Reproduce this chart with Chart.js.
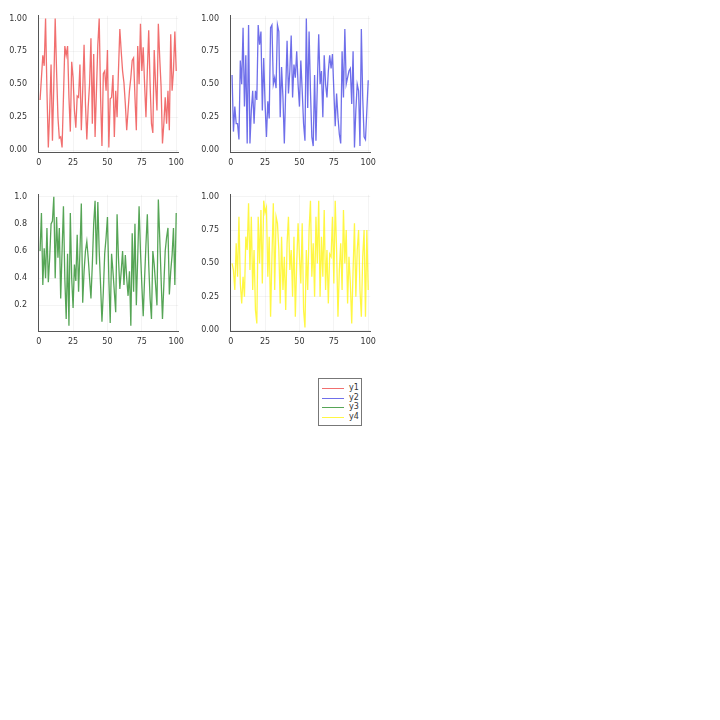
<!doctype html>
<html lang="en">
<head>
<meta charset="UTF-8" />
<title>Four random series</title>
<style>
  body { margin: 0; background: #fff; width: 720px; height: 720px; position: relative; overflow: hidden; }
  canvas { position: absolute; }
  #legend {
    position: absolute; left: 318px; top: 378px; width: 44px; height: 48px;
    border: 1px solid #777; background: #fff; box-sizing: border-box;
    font: 8px "DejaVu Sans", sans-serif; color: #333;
  }
  #legend .row { position: absolute; left: 3px; height: 10px; line-height: 10px; }
  #legend .sw { position: absolute; left: 0; top: 5px; width: 22px; height: 0; border-top: 1px solid; }
  #legend .lab { position: absolute; left: 27px; top: 0; }
</style>
</head>
<body>
<canvas id="c1" width="190" height="172" style="left:0;top:0"></canvas>
<canvas id="c2" width="190" height="172" style="left:192px;top:0"></canvas>
<canvas id="c3" width="190" height="172" style="left:0;top:179px"></canvas>
<canvas id="c4" width="190" height="172" style="left:192px;top:179px"></canvas>
<div id="legend"></div>

<script src="https://cdn.jsdelivr.net/npm/chart.js"></script>
<script>
// series values, one per index 1..100
const y1 = [0.38,0.55,0.72,0.64,1.0,0.45,0.02,0.3,0.65,0.07,
  0.5,1.0,0.6,0.25,0.09,0.1,0.02,0.4,0.79,0.72,
  0.79,0.4,0.14,0.67,0.55,0.3,0.17,0.41,0.4,0.65,
  0.15,0.45,0.8,0.35,0.08,0.33,0.5,0.85,0.2,0.73,
  0.1,0.45,0.8,1.0,0.4,0.03,0.58,0.6,0.45,0.76,
  0.02,0.39,0.4,0.57,0.1,0.45,0.25,0.6,0.92,0.75,
  0.6,0.51,0.35,0.15,0.3,0.45,0.55,0.68,0.7,0.4,
  0.15,0.79,0.5,0.96,0.6,0.78,0.5,0.25,0.6,0.91,
  0.5,0.2,0.13,0.76,0.5,0.3,0.96,0.7,0.48,0.05,
  0.2,0.4,0.2,0.45,0.15,0.88,0.45,0.6,0.9,0.6]
const y2 = [0.57,0.14,0.33,0.2,0.2,0.08,0.68,0.5,0.93,0.33,
  0.72,0.05,0.95,0.05,0.3,0.45,0.2,0.45,0.38,0.95,
  0.8,0.9,0.3,0.7,0.35,0.1,0.37,0.24,0.93,0.95,
  0.5,0.55,0.47,0.95,0.9,0.25,0.63,0.4,0.05,0.45,
  0.83,0.43,0.6,0.87,0.4,0.65,0.55,0.75,0.5,0.33,
  0.68,0.45,0.2,0.07,1.0,0.32,0.9,0.45,0.1,0.03,
  0.57,0.07,0.5,0.88,0.5,0.6,0.25,0.72,0.5,0.4,
  0.6,0.72,0.62,0.73,0.45,0.18,0.43,0.25,0.12,0.05,
  0.75,0.4,0.92,0.5,0.55,0.6,0.62,0.35,0.75,0.02,
  0.3,0.5,0.45,0.03,0.92,0.4,0.1,0.08,0.3,0.53]
const y3 = [0.6,0.88,0.35,0.62,0.4,0.77,0.37,0.55,0.8,0.82,
  1.0,0.4,0.85,0.55,0.77,0.25,0.6,0.93,0.4,0.1,
  0.58,0.05,0.88,0.4,0.18,0.5,0.38,0.72,0.3,0.6,
  0.95,0.22,0.45,0.6,0.67,0.55,0.4,0.25,0.5,0.8,
  0.97,0.5,0.96,0.6,0.35,0.08,0.3,0.58,0.7,0.85,
  0.4,0.07,0.58,0.45,0.3,0.15,0.87,0.55,0.32,0.45,
  0.6,0.35,0.57,0.4,0.27,0.45,0.05,0.73,0.3,0.8,
  0.2,0.55,0.93,0.6,0.35,0.12,0.4,0.65,0.87,0.5,
  0.25,0.1,0.6,0.5,0.35,0.2,0.98,0.7,0.4,0.1,
  0.35,0.6,0.7,0.77,0.28,0.45,0.57,0.77,0.35,0.88]
const y4 = [0.5,0.45,0.3,0.65,0.4,0.85,0.35,0.2,0.4,0.25,
  0.7,0.6,0.95,0.45,0.85,0.3,0.6,0.15,0.05,0.85,
  0.5,0.9,0.35,0.97,0.88,0.92,0.4,0.7,0.1,0.55,
  0.95,0.3,0.85,0.8,0.6,0.2,0.7,0.3,0.55,0.15,
  0.65,0.85,0.45,0.6,0.25,0.7,0.1,0.5,0.8,0.55,
  0.35,0.8,0.15,0.02,0.6,0.3,0.75,0.97,0.4,0.65,
  0.25,0.85,0.5,0.97,0.25,0.7,0.4,0.9,0.3,0.6,
  0.2,0.57,0.55,0.85,0.35,0.97,0.6,0.1,0.45,0.65,
  0.3,0.9,0.5,0.75,0.2,0.55,0.35,0.05,0.45,0.8,
  0.25,0.6,0.75,0.3,0.1,0.55,0.75,0.1,0.75,0.3]

const seriesNames = ['y1','y2','y3','y4']
const xTicks = [0,25,50,75,100]
const yTicksA = [0,0.25,0.5,0.75,1]
const yTicksB = [0.2,0.4,0.6,0.8,1.0]
const colors = ['rgba(235,50,50,0.7)','rgba(50,50,225,0.7)','rgba(30,135,30,0.75)','rgba(255,245,20,0.8)']

const xs = y1.map((v,i)=>i+1)
const FONT = {family:'"DejaVu Sans", sans-serif', size:8}

function makeChart(id, ys, color, yTicks, yMin, yMax, digits){
  return new Chart(document.getElementById(id), {
    type: 'line',
    data: { datasets: [{ label: '', data: xs.map((x,i)=>({x:x, y:ys[i]})), borderColor: color,
      borderWidth: 1.3, pointRadius: 0, tension: 0, fill: false }] },
    options: {
      responsive: false, animation: false, devicePixelRatio: 1,
      layout: { padding: { top: 10, right: 10, left: 0, bottom: 0 } },
      plugins: { legend: { display: false }, tooltip: { enabled: false } },
      scales: {
        x: {
          type: 'linear', min: -0.5, max: 101.5,
          afterBuildTicks: s => { s.ticks = xTicks.map(v=>({value:v})) },
          afterFit: s => { s.height = 20 },
          ticks: { color: '#333', font: FONT, padding: 6, maxRotation: 0, autoSkip: false },
          grid: { color: 'rgba(0,0,0,0.045)', drawTicks: false },
          border: { display: true, color: '#555', width: 1 }
        },
        y: {
          min: yMin, max: yMax,
          afterBuildTicks: s => { s.ticks = yTicks.map(v=>({value:v})) },
          afterFit: s => { s.width = 38 },
          ticks: { color: '#333', font: FONT, padding: 11, autoSkip: false,
            callback: v => Number(v).toFixed(digits) },
          grid: { color: 'rgba(0,0,0,0.045)', drawTicks: false },
          border: { display: true, color: '#555', width: 1 }
        }
      }
    }
  })
}

makeChart('c1', y1, colors[0], yTicksA, -0.015, 1.02, 2)
makeChart('c2', y2, colors[1], yTicksA, -0.015, 1.02, 2)
makeChart('c3', y3, colors[2], yTicksB, 0.011, 1.014, 1)
makeChart('c4', y4, colors[3], yTicksA, -0.007, 1.014, 2)

// legend box
const leg = document.getElementById('legend')
seriesNames.forEach((n,i)=>{
  const r = document.createElement('div')
  r.className = 'row'
  r.style.top = (4 + i*9.7) + 'px'
  r.innerHTML = '<span class="sw" style="border-color:'+colors[i]+'"></span><span class="lab">'+n+'</span>'
  leg.appendChild(r)
})
</script>
</body>
</html>
